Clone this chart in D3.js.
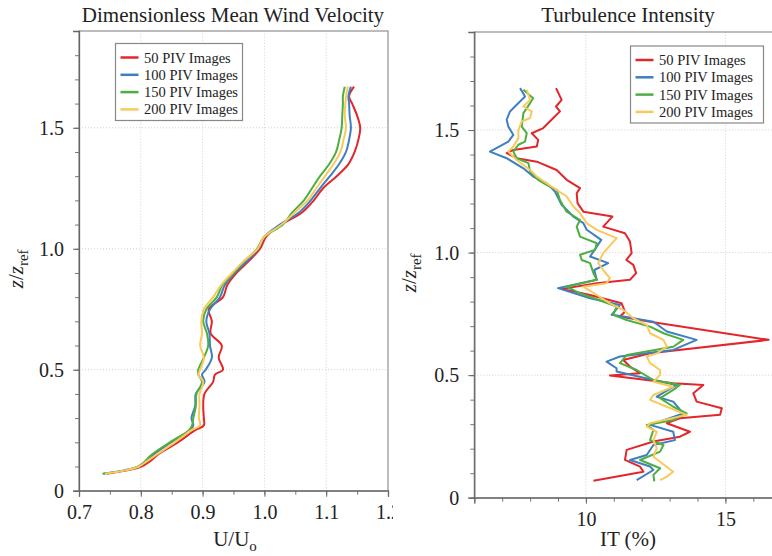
<!DOCTYPE html>
<html>
<head>
<meta charset="utf-8">
<script src="https://cdn.jsdelivr.net/npm/d3@7"></script>
<style>
  body { margin: 0; background: #fff; }
  text { font-family: "Liberation Serif", "Times New Roman", serif; fill: #222; }
</style>
</head>
<body>
<script>
// series names + colours
const seriesNames = ["50 PIV Images", "100 PIV Images", "150 PIV Images", "200 PIV Images"];
const seriesColors = ["#e3262a", "#3f7fc1", "#4caf3f", "#f9c95d"];

// left panel: z/zref levels shared by all velocity profiles
const zVel = [0.07, 0.085, 0.1, 0.12, 0.15, 0.2, 0.25, 0.27, 0.3, 0.35, 0.4, 0.45, 0.48, 0.5, 0.55, 0.6, 0.65, 0.7, 0.75, 0.8,
  0.85, 0.9, 0.95, 1.0, 1.05, 1.1, 1.15, 1.2, 1.25, 1.3, 1.35, 1.4, 1.45, 1.5, 1.55, 1.6, 1.63, 1.67];
const vel50 = [0.745, 0.78, 0.801, 0.814, 0.828, 0.86, 0.888, 0.902, 0.902, 0.901, 0.903, 0.917, 0.92, 0.933, 0.926, 0.931, 0.913, 0.915, 0.91, 0.933,
  0.94, 0.955, 0.975, 0.993, 1.003, 1.027, 1.061, 1.08, 1.095, 1.117, 1.136, 1.146, 1.152, 1.155, 1.15, 1.142, 1.137, 1.145];
const vel100 = [0.74, 0.775, 0.797, 0.808, 0.821, 0.849, 0.88, 0.885, 0.882, 0.888, 0.889, 0.903, 0.899, 0.905, 0.915, 0.912, 0.911, 0.906, 0.912, 0.928,
  0.936, 0.952, 0.972, 0.99, 1.0, 1.025, 1.056, 1.075, 1.09, 1.106, 1.121, 1.132, 1.137, 1.14, 1.138, 1.137, 1.136, 1.14];
const vel150 = [0.738, 0.776, 0.796, 0.806, 0.818, 0.847, 0.878, 0.883, 0.885, 0.889, 0.89, 0.899, 0.893, 0.893, 0.902, 0.909, 0.907, 0.901, 0.906, 0.923,
  0.932, 0.95, 0.968, 0.988, 1.0, 1.03, 1.045, 1.064, 1.077, 1.09, 1.105, 1.116, 1.121, 1.125, 1.126, 1.127, 1.127, 1.13];
const vel200 = [0.742, 0.777, 0.797, 0.809, 0.826, 0.855, 0.882, 0.896, 0.894, 0.895, 0.895, 0.901, 0.893, 0.896, 0.902, 0.896, 0.899, 0.898, 0.902, 0.917,
  0.93, 0.948, 0.967, 0.989, 1.0, 1.028, 1.049, 1.07, 1.084, 1.098, 1.112, 1.123, 1.128, 1.132, 1.13, 1.131, 1.132, 1.135];

// right panel: [IT %, z/zref]
const it50 = [[8.93,1.671],[9.13,1.623],[8.93,1.596],[9.07,1.576],[8.77,1.542],[8.47,1.508],[8.06,1.487],[8.29,1.46],[8.24,1.433],[7.40,1.419],
  [7.16,1.406],[7.52,1.385],[8.24,1.371],[8.95,1.337],[9.31,1.297],[9.79,1.263],[9.67,1.242],[9.7,1.202],[9.91,1.167],[10.95,1.147],
  [10.62,1.106],[11.4,1.079],[11.58,1.045],[11.64,0.998],[11.45,0.97],[11.7,0.95],[11.8,0.916],[11.58,0.889],[10.39,0.875],[9.15,0.852],
  [10.15,0.827],[11.28,0.793],[11.4,0.759],[11.22,0.739],[12.3,0.718],[16.55,0.644],[12.3,0.589],[11.34,0.562],[11.58,0.535],[11.94,0.508],
  [10.86,0.499],[13.13,0.467],[14.21,0.46],[13.85,0.426],[13.97,0.392],[14.87,0.365],[14.81,0.338],[13.37,0.324],[12.9,0.304],[13.73,0.269],
  [13.37,0.249],[12.42,0.229],[11.46,0.195],[11.4,0.154],[11.94,0.127],[12.06,0.106],[10.27,0.069]];
const it100 = [[7.64,1.671],[7.82,1.637],[7.52,1.603],[7.28,1.576],[7.16,1.542],[7.22,1.514],[7.40,1.48],[7.22,1.453],[6.56,1.412],[7.16,1.385],
  [7.76,1.344],[8.11,1.31],[8.59,1.283],[8.77,1.263],[8.89,1.249],[9.13,1.195],[9.55,1.147],[9.91,1.12],[10.03,1.093],[10.55,1.052],
  [10.15,0.984],[10.8,0.957],[10.3,0.929],[10.39,0.889],[9.0,0.855],[10.15,0.814],[11.22,0.786],[10.92,0.746],[11.34,0.739],[12.42,0.718],
  [12.9,0.678],[13.97,0.644],[13.13,0.603],[11.22,0.576],[10.74,0.555],[11.1,0.528],[11.1,0.515],[12.42,0.48],[13.25,0.46],[12.54,0.412],
  [13.13,0.392],[13.49,0.344],[12.3,0.297],[13.13,0.269],[13.19,0.235],[12.42,0.215],[12.18,0.174],[11.58,0.154],[12.3,0.127],[12.42,0.113],
  [11.82,0.072]];
const it150 = [[7.76,1.664],[8.11,1.63],[8.0,1.61],[7.76,1.569],[7.7,1.514],[7.88,1.487],[7.82,1.453],[7.58,1.44],[7.4,1.412],[7.52,1.385],
  [7.94,1.365],[8.0,1.331],[8.29,1.297],[8.59,1.276],[8.95,1.256],[9.07,1.215],[9.31,1.167],[9.79,1.133],[9.67,1.106],[9.79,1.065],
  [10.39,1.038],[10.33,1.011],[9.79,0.991],[9.85,0.97],[10.15,0.957],[10.27,0.916],[10.39,0.889],[9.31,0.861],[9.79,0.834],[11.1,0.78],
  [10.98,0.746],[11.46,0.725],[12.3,0.698],[12.78,0.671],[13.49,0.644],[13.13,0.616],[11.46,0.582],[11.22,0.549],[11.82,0.521],[12.42,0.48],
  [13.37,0.46],[13.13,0.44],[12.66,0.406],[13.13,0.371],[13.61,0.344],[13.13,0.317],[12.18,0.297],[12.42,0.276],[12.3,0.235],[12.78,0.215],
  [12.66,0.188],[11.94,0.154],[12.66,0.12],[12.42,0.093],[12.45,0.067]];
const it200 = [[7.88,1.664],[8.0,1.623],[7.76,1.596],[8.06,1.576],[8.0,1.549],[7.7,1.535],[7.58,1.5],[7.58,1.467],[7.4,1.433],[7.22,1.412],
  [7.52,1.378],[8.0,1.337],[8.24,1.31],[8.59,1.283],[9.31,1.229],[9.55,1.188],[9.79,1.161],[10.03,1.12],[10.39,1.093],[11.1,1.059],
  [10.62,0.998],[10.44,0.957],[10.62,0.929],[10.86,0.896],[10.74,0.875],[9.91,0.861],[10.39,0.827],[10.86,0.793],[11.34,0.766],[11.7,0.732],
  [12.18,0.705],[12.3,0.671],[12.78,0.644],[12.9,0.616],[12.54,0.589],[12.18,0.576],[12.3,0.549],[12.66,0.521],[12.66,0.501],[12.42,0.473],
  [13.13,0.453],[12.42,0.419],[12.3,0.399],[12.9,0.371],[13.61,0.338],[12.3,0.304],[12.18,0.29],[12.54,0.269],[12.42,0.235],[12.54,0.202],
  [12.42,0.167],[13.13,0.106],[12.9,0.086],[12.66,0.072]];

// tick values
const velTicks = [0.7, 0.8, 0.9, 1.0, 1.1, 1.2];
const itTicks = [10, 15];
const zTicks = [0, 0.5, 1.0, 1.5];

const svg = d3.select("body").append("svg")
    .attr("width", 772)
    .attr("height", 556);

// draws one panel (frame, grid, axes, lines, legend)
function panel(g, opt) {
    const x = d3.scaleLinear().domain(opt.xDomain).range(opt.xRange);
    const y = d3.scaleLinear().domain([0, 1.9]).range(opt.yRange);
    const [x0, x1] = opt.xRange, [y0, y1] = opt.yRange;

    // dotted grid
    g.append("g").selectAll("line").data(opt.xGrid).join("line")
        .attr("x1", d => x(d)).attr("x2", d => x(d)).attr("y1", y0).attr("y2", y1)
        .attr("stroke", "#cfcfcf").attr("stroke-dasharray", "1,2");
    g.append("g").selectAll("line").data([0.5, 1.0, 1.5]).join("line")
        .attr("x1", x0).attr("x2", x1).attr("y1", d => y(d)).attr("y2", d => y(d))
        .attr("stroke", "#cfcfcf").attr("stroke-dasharray", "1,2");

    // frame
    g.append("rect")
        .attr("x", x0).attr("y", y1).attr("width", x1 - x0).attr("height", y0 - y1)
        .attr("fill", "none").attr("stroke", "#999").attr("stroke-width", 1.3);

    // minor ticks
    g.append("g").attr("transform", `translate(0,${y0})`)
        .call(d3.axisBottom(x).tickValues(opt.xMinor).tickSize(4).tickFormat(""))
        .call(a => a.select(".domain").remove())
        .selectAll("line").attr("stroke", "#777");
    g.append("g").attr("transform", `translate(${x0},0)`)
        .call(d3.axisLeft(y).tickValues(d3.range(0, 19).map(i => i / 10)).tickSize(4).tickFormat(""))
        .call(a => a.select(".domain").remove())
        .selectAll("line").attr("stroke", "#777");

    // major ticks + labels
    const xa = g.append("g").attr("transform", `translate(0,${y0})`)
        .call(d3.axisBottom(x).tickValues(opt.xTicks).tickSize(6).tickPadding(8).tickFormat(opt.xFormat));
    xa.select(".domain").attr("stroke", "#666").attr("stroke-width", 1.3);
    xa.selectAll("line").attr("stroke", "#666");
    xa.selectAll("text").style("font-size", "20px").attr("fill", "#222");

    const ya = g.append("g").attr("transform", `translate(${x0},0)`)
        .call(d3.axisLeft(y).tickValues(zTicks).tickSize(6).tickPadding(9).tickFormat(d => d === 0 ? "0" : d3.format(".1f")(d)));
    ya.select(".domain").attr("stroke", "#666").attr("stroke-width", 1.3);
    ya.selectAll("line").attr("stroke", "#666");
    ya.selectAll("text").style("font-size", "20px").attr("fill", "#222");

    // profiles
    const line = d3.line().x(d => x(d[0])).y(d => y(d[1])).curve(opt.curve);
    g.append("g").selectAll("path").data(opt.series).join("path")
        .attr("d", line)
        .attr("fill", "none")
        .attr("stroke", (d, i) => seriesColors[i])
        .attr("stroke-width", 2)
        .attr("stroke-linejoin", "round");

    // title
    g.append("text")
        .attr("x", opt.titleX).attr("y", 22)
        .attr("text-anchor", "middle")
        .style("font-size", "21px")
        .text(opt.title);

    // y label z/z_ref
    const yl = g.append("text")
        .attr("transform", `translate(${opt.yLabelX},${(y0 + y1) / 2 + 8}) rotate(-90)`)
        .attr("text-anchor", "middle")
        .style("font-size", "21px");
    yl.append("tspan").style("font-style", "italic").text("z");
    yl.append("tspan").text("/");
    yl.append("tspan").style("font-style", "italic").text("z");
    yl.append("tspan").attr("dy", 5).style("font-size", "15px").text("ref");

    // x label
    const xl = g.append("text")
        .attr("x", opt.xLabelX).attr("y", 546)
        .attr("text-anchor", "middle")
        .style("font-size", "21px");
    opt.xLabel(xl);

    // legend
    const lg = g.append("g").attr("transform", `translate(${opt.legend[0]},${opt.legend[1]})`);
    lg.append("rect").attr("width", opt.legend[2]).attr("height", 77)
        .attr("fill", "#fff").attr("stroke", "#888").attr("stroke-width", 1.2);
    const row = lg.selectAll("g").data(seriesNames).join("g")
        .attr("transform", (d, i) => `translate(0,${14 + i * 17.3})`);
    row.append("line").attr("x1", 5).attr("x2", 23)
        .attr("stroke", (d, i) => seriesColors[i]).attr("stroke-width", 2.5);
    row.append("text").attr("x", 28.5).attr("dy", "0.35em")
        .style("font-size", "14.5px")
        .text(d => d);
}

// left panel clipped near x=393 (cuts the "1.2" label like the original)
const left = svg.append("svg").attr("x", 0).attr("y", 0).attr("width", 393).attr("height", 556);
panel(left, {
    xDomain: [0.7, 1.2], xRange: [79, 388], yRange: [490.7, 31],
    xTicks: velTicks, xMinor: d3.range(0, 11).map(i => 0.7 + i * 0.05),
    xGrid: [0.8, 0.9, 1.0, 1.1], xFormat: d3.format(".1f"),
    series: [vel50, vel100, vel150, vel200].map(s => s.map((v, i) => [v, zVel[i]])),
    curve: d3.curveCatmullRom,
    title: "Dimensionless Mean Wind Velocity", titleX: 233,
    yLabelX: 23, xLabelX: 235,
    xLabel: t => {
        t.append("tspan").text("U/U");
        t.append("tspan").attr("dy", 5).style("font-size", "15px").text("o");
    },
    legend: [115.5, 43.5, 127]
});

// right panel
const right = svg.append("g");
panel(right, {
    xDomain: [6, 17], xRange: [474.3, 781.2], yRange: [497.7, 32],
    xTicks: itTicks, xMinor: d3.range(6, 18),
    xGrid: [10, 15], xFormat: d3.format("d"),
    series: [it50, it100, it150, it200],
    curve: d3.curveLinear,
    title: "Turbulence Intensity", titleX: 628,
    yLabelX: 416, xLabelX: 628,
    xLabel: t => t.text("IT (%)"),
    legend: [630.5, 46, 133]
});
</script>
</body>
</html>
